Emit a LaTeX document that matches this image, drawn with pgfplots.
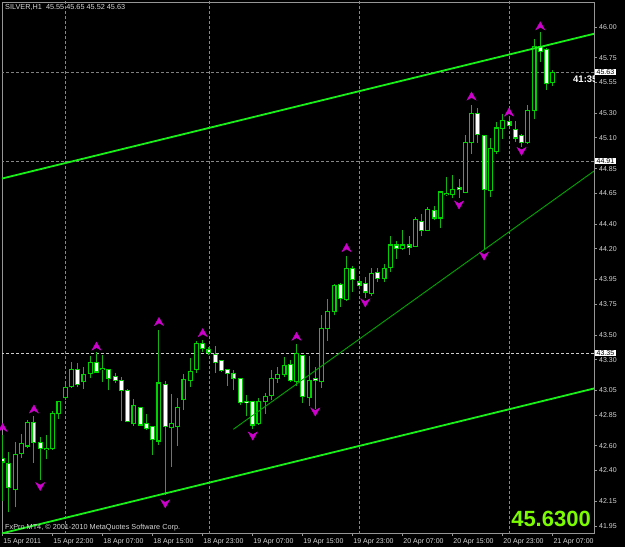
\documentclass[border=0pt]{standalone}
\usepackage{pgfplots}
\pgfplotsset{compat=1.18}
\usepackage{pgfplotstable}
\usepackage{fontspec}
\setmainfont{Liberation Sans}

\definecolor{wickc}{RGB}{20,180,20}
\definecolor{bodyc}{RGB}{0,210,0}
\definecolor{chan}{RGB}{25,240,25}
\definecolor{thinl}{RGB}{0,165,0}
\definecolor{fract}{RGB}{205,0,205}
\definecolor{gridc}{RGB}{135,135,135}
\definecolor{axisc}{RGB}{150,150,150}
\definecolor{labc}{RGB}{215,215,215}
\definecolor{bignum}{RGB}{124,252,0}

% fractal arrow heads
\pgfdeclareplotmark{fup}{%
  \pgfpathmoveto{\pgfqpoint{0bp}{4bp}}%
  \pgfpathlineto{\pgfqpoint{4.5bp}{-4bp}}%
  \pgfpathlineto{\pgfqpoint{0bp}{-1.5bp}}%
  \pgfpathlineto{\pgfqpoint{-4.5bp}{-4bp}}%
  \pgfpathclose\pgfusepathqfillstroke}
\pgfdeclareplotmark{fdn}{%
  \pgfpathmoveto{\pgfqpoint{0bp}{-4bp}}%
  \pgfpathlineto{\pgfqpoint{4.5bp}{4bp}}%
  \pgfpathlineto{\pgfqpoint{0bp}{1.5bp}}%
  \pgfpathlineto{\pgfqpoint{-4.5bp}{4bp}}%
  \pgfpathclose\pgfusepathqfillstroke}

% SILVER H1 candles: bar index, open, high, low, close
\pgfplotstableread{
i  o     h     l     c
2  42.25 42.63 42.10 42.53
3  42.54 42.70 42.50 42.62
4  42.60 42.81 42.58 42.79
7  42.57 42.69 42.49 42.58
8  42.58 42.88 42.57 42.86
9  42.86 42.96 42.82 42.96
10 42.99 43.10 42.97 43.07
11 43.08 43.28 43.07 43.22
13 43.12 43.24 43.06 43.18
14 43.19 43.33 43.15 43.28
16 43.22 43.34 43.12 43.23
21 42.78 42.98 42.76 42.93
25 42.64 43.54 42.61 43.11
27 42.75 43.02 42.43 42.78
28 42.76 42.99 42.60 42.91
29 42.98 43.18 42.89 43.14
30 43.13 43.31 43.08 43.20
31 43.22 43.45 43.19 43.43
41 42.78 42.99 42.77 42.96
42 42.96 43.03 42.86 43.00
43 43.01 43.22 42.97 43.15
44 43.15 43.24 43.11 43.18
45 43.18 43.32 43.16 43.25
47 43.12 43.43 43.09 43.35
49 42.99 43.33 42.92 43.13
51 43.12 43.66 43.07 43.55
52 43.55 43.79 43.45 43.69
53 43.69 43.91 43.66 43.90
55 43.79 44.14 43.78 44.04
59 43.84 44.04 43.82 44.00
61 43.96 44.08 43.93 44.04
62 44.05 44.30 44.01 44.23
64 44.20 44.35 44.19 44.23
66 44.22 44.46 44.22 44.44
68 44.35 44.54 44.35 44.52
70 44.45 44.67 44.37 44.66
71 44.64 44.78 44.63 44.65
72 44.64 44.80 44.61 44.68
74 44.66 45.12 44.65 45.06
75 45.06 45.37 44.97 45.30
78 44.67 45.10 44.62 45.01
79 44.99 45.23 44.97 45.18
80 45.18 45.29 45.09 45.24
84 45.06 45.37 45.05 45.32
85 45.32 45.90 45.25 45.84
88 45.55 45.65 45.52 45.63
}\bull

\pgfplotstableread{
i  o     h     l     c
0  42.50 42.69 42.15 42.47
1  42.46 42.55 42.06 42.26
5  42.79 42.84 42.46 42.63
6  42.63 42.67 42.32 42.58
12 43.22 43.27 43.08 43.10
15 43.28 43.36 43.19 43.20
17 43.22 43.22 43.05 43.15
18 43.16 43.19 43.11 43.13
19 43.13 43.16 42.80 43.05
20 43.05 43.06 42.79 42.80
22 42.91 42.91 42.76 42.77
23 42.78 42.86 42.73 42.74
24 42.76 42.76 42.53 42.65
26 43.10 43.13 42.20 42.76
32 43.43 43.46 43.36 43.39
33 43.38 43.40 43.34 43.36
34 43.34 43.41 43.19 43.28
35 43.29 43.29 43.20 43.21
36 43.22 43.22 43.09 43.19
37 43.19 43.22 43.05 43.15
38 43.15 43.15 42.93 42.95
39 42.96 43.01 42.84 42.95
40 42.96 42.96 42.74 42.77
46 43.26 43.30 43.12 43.13
48 43.33 43.33 42.95 43.00
50 43.15 43.24 42.90 43.13
54 43.91 43.92 43.73 43.80
56 44.04 44.06 43.85 43.95
57 43.93 43.97 43.87 43.90
58 43.92 43.97 43.80 43.85
60 44.01 44.04 43.93 43.96
63 44.23 44.26 44.12 44.20
65 44.23 44.30 44.15 44.21
67 44.42 44.48 44.30 44.35
69 44.51 44.55 44.43 44.45
73 44.70 44.77 44.61 44.68
76 45.30 45.34 45.06 45.13
77 45.12 45.12 44.19 44.68
81 45.23 45.28 45.20 45.20
82 45.17 45.24 45.07 45.10
83 45.12 45.13 45.03 45.06
86 45.84 45.96 45.72 45.80
87 45.82 45.83 45.49 45.54
}\bear

\begin{document}
\begin{tikzpicture}
\fill[black] (0,0) rectangle (625bp,547bp);
\begin{axis}[
  at={(2bp,14bp)}, anchor=south west,
  scale only axis, width=592bp, height=531bp,
  xmin=-0.112, xmax=94.59, ymin=41.893, ymax=46.203,
  clip mode=individual,
  axis line style={draw=axisc, line width=0.8bp},
  tick style={draw=axisc, line width=0.8bp},
  tick align=outside, major tick length=3bp,
  xtick pos=left, ytick pos=right, yticklabel pos=right,
  xtick={0,8,...,88},
  xticklabels={15 Apr 2011,15 Apr 22:00,18 Apr 07:00,18 Apr 15:00,18 Apr 23:00,19 Apr 07:00,19 Apr 15:00,19 Apr 23:00,20 Apr 07:00,20 Apr 15:00,20 Apr 23:00,21 Apr 07:00},
  ytick={46.00,45.75,45.55,45.30,45.10,44.85,44.65,44.40,44.20,43.95,43.75,43.50,43.30,43.05,42.85,42.60,42.40,42.15,41.95},
  yticklabels={46.00,45.75,45.55,45.30,45.10,44.85,44.65,44.40,44.20,43.95,43.75,43.50,43.30,43.05,42.85,42.60,42.40,42.15,41.95},
  ticklabel style={font=\fontsize{7bp}{8bp}\selectfont, text=labc, inner sep=0pt},
  xticklabel style={anchor=north west, xshift=0.5bp, yshift=-2bp},
  yticklabel style={anchor=west, xshift=2bp},
]
% grid / horizontal lines
\addplot[gridc, line width=0.8bp, dash pattern=on 3bp off 2bp, forget plot] coordinates {(9.97,41.8)(9.97,46.3)};
\addplot[gridc, line width=0.8bp, dash pattern=on 3bp off 2bp, forget plot] coordinates {(33.0,41.8)(33.0,46.3)};
\addplot[gridc, line width=0.8bp, dash pattern=on 3bp off 2bp, forget plot] coordinates {(57.0,41.8)(57.0,46.3)};
\addplot[gridc, line width=0.8bp, dash pattern=on 3bp off 2bp, forget plot] coordinates {(81.0,41.8)(81.0,46.3)};
\addplot[gray, line width=0.8bp, dash pattern=on 3bp off 2bp, forget plot] coordinates {(-1,45.63)(95,45.63)};
\addplot[gridc, line width=0.8bp, dash pattern=on 3bp off 2bp, forget plot] coordinates {(-1,44.91)(95,44.91)};
\addplot[black!20, line width=0.8bp, dash pattern=on 3bp off 2bp, forget plot] coordinates {(-1,43.35)(95,43.35)};

% wicks
\addplot[draw=none, mark=none, forget plot, error bars/.cd, y dir=plus, y explicit, error mark=none,
  error bar style={draw=wickc, solid, line width=1bp}]
  table[x=i, y=l, y error plus expr={\thisrow{h}-\thisrow{l}}] {\bull};
\addplot[draw=none, mark=none, forget plot, error bars/.cd, y dir=plus, y explicit, error mark=none,
  error bar style={draw=wickc, solid, line width=1bp}]
  table[x=i, y=l, y error plus expr={\thisrow{h}-\thisrow{l}}] {\bear};
% bodies: outline then fill
\addplot[draw=none, mark=none, forget plot, error bars/.cd, y dir=plus, y explicit, error mark=none,
  error bar style={draw=bodyc, solid, line width=5bp}]
  table[x=i, y expr={\thisrow{o}-0.005}, y error plus expr={\thisrow{c}-\thisrow{o}+0.010}] {\bull};
\addplot[draw=none, mark=none, forget plot, error bars/.cd, y dir=plus, y explicit, error mark=none,
  error bar style={draw=black, solid, line width=2.8bp}]
  table[x=i, y expr={\thisrow{o}+0.004}, y error plus expr={\thisrow{c}-\thisrow{o}-0.008}] {\bull};
\addplot[draw=none, mark=none, forget plot, error bars/.cd, y dir=plus, y explicit, error mark=none,
  error bar style={draw=bodyc, solid, line width=5bp}]
  table[x=i, y expr={\thisrow{c}-0.005}, y error plus expr={\thisrow{o}-\thisrow{c}+0.010}] {\bear};
\addplot[draw=none, mark=none, forget plot, error bars/.cd, y dir=plus, y explicit, error mark=none,
  error bar style={draw=white, solid, line width=2.8bp}]
  table[x=i, y expr={\thisrow{c}+0.004}, y error plus expr={\thisrow{o}-\thisrow{c}-0.008}] {\bear};

% trend lines
\addplot[chan, line width=1.8bp, forget plot] coordinates {(-0.112,44.770)(94.59,45.945)};
\addplot[chan, line width=1.8bp, forget plot] coordinates {(-0.112,41.890)(94.59,43.066)};
\addplot[thinl, line width=0.9bp, forget plot] coordinates {(36.9,42.735)(94.59,44.831)};

% fractals
\addplot[only marks, mark=fup, color=fract, mark options={fill=fract, draw=fract, line width=0.4bp}, forget plot]
  coordinates {(0,42.75)(5,42.90)(15,43.41)(25,43.61)(32,43.52)(47,43.49)(55,44.21)(75,45.44)(81,45.31)(86,46.01)};
\addplot[only marks, mark=fdn, color=fract, mark options={fill=fract, draw=fract, line width=0.4bp}, forget plot]
  coordinates {(6,42.27)(26,42.13)(40,42.68)(50,42.875)(58,43.76)(73,44.555)(77,44.14)(83,44.99)};
\end{axis}

% texts
\node[anchor=north west, inner sep=0pt, text=labc, font=\fontsize{7.3bp}{8bp}\selectfont] at (5bp,543bp) {SILVER,H1\ \ 45.55 45.65 45.52 45.63};
\node[anchor=base west, inner sep=0pt, text=labc, font=\fontsize{7.3bp}{8bp}\selectfont] at (5bp,17.5bp) {FxPro MT4, \textcopyright{} 2001-2010 MetaQuotes Software Corp.};
\node[anchor=base east, inner sep=0pt, text=bignum, font=\bfseries\fontsize{22bp}{24bp}\selectfont] at (591bp,21bp) {45.6300};
\begin{scope}
\clip (560bp,450bp) rectangle (594bp,480bp);
\node[anchor=base west, inner sep=0pt, text=white, font=\bfseries\fontsize{9.5bp}{10bp}\selectfont] at (573bp,464bp) {41:35};
\end{scope}
% price labels on the scale
\foreach \yy/\tt in {475/45.63, 386/44.91, 194/43.35}{
  \node[anchor=west, fill=white, text=black, inner xsep=1.5bp, inner ysep=1bp, font=\fontsize{7bp}{7.5bp}\selectfont] at (595bp,\yy bp) {\tt};
}
\pgfresetboundingbox
\useasboundingbox (0,0) rectangle (625bp,547bp);
\end{tikzpicture}
\end{document}
